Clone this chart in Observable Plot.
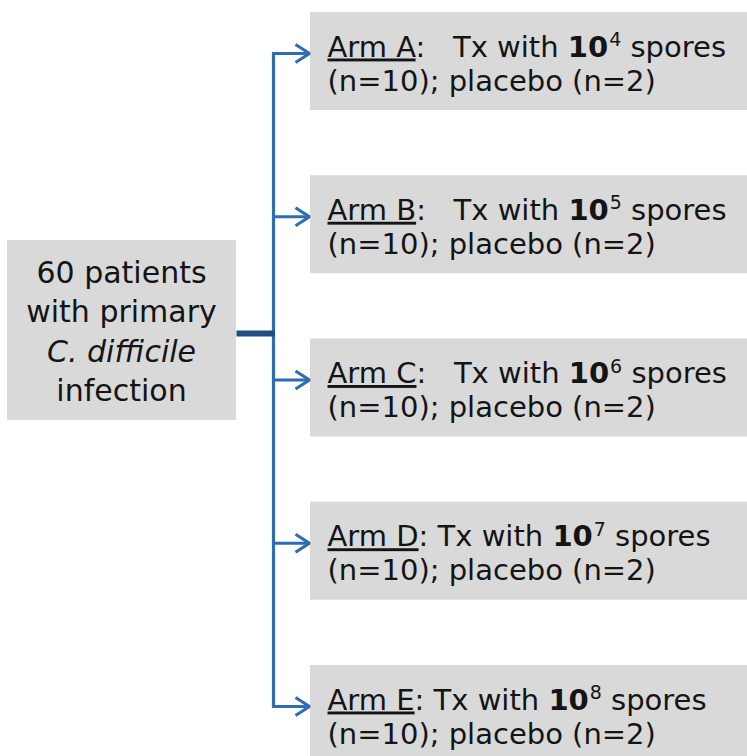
<!DOCTYPE html>
<html><head><meta charset="utf-8">
<script src="https://cdn.jsdelivr.net/npm/d3@7"></script>
<script src="https://cdn.jsdelivr.net/npm/@observablehq/plot@0.6"></script>
<style>html,body{margin:0;padding:0;background:#fff} svg{display:block}</style>
</head><body><div id="chart"></div>
<script>
// ---- data ----
const arms = ["A", "B", "C", "D", "E"];
const exponents = [4, 5, 6, 7, 8];
const treatedN = [10, 10, 10, 10, 10];
const placeboN = [2, 2, 2, 2, 2];
const armSeparators = [":   ", ":   ", ":   ", ": ", ": "];
const sourceLines = ["60 patients", "with primary", "C. difficile", "infection"];
const sourceItalic = [false, false, true, false];

// ---- style / layout ----
const W = 747, H = 756;
const FONT = "'DejaVu Sans', sans-serif";
const FS = 29, FS_SRC = 30;
const TEXT = "#141414", BOX = "#d9d9d9", BLUE = "#2f6db3", DARK = "#1f4e85";
const boxX1 = 310, boxTop0 = 12, step = 163.25, boxH = 98;
const spineX = 273, tipX = 309, arrowOff = 41, headBack = 14, headHalf = 9;
const src = {x1: 7, x2: 236, y1: 240, y2: 420, cx: 121, base0: 282, lh: 39.5, connY: 333};

const armData = arms.map((a, i) => ({
  arm: a, exp: exponents[i], n: treatedN[i], p: placeboN[i], sep: armSeparators[i],
  top: boxTop0 + i * step
}));
const srcData = sourceLines.map((t, i) => ({text: t, italic: sourceItalic[i], y: src.base0 + i * src.lh}));
const heads = armData.flatMap(d => {
  const y = d.top + arrowOff;
  return [
    {arm: d.arm, x: tipX - headBack, y: y - headHalf},
    {arm: d.arm, x: tipX, y: y},
    {arm: d.arm, x: tipX - headBack, y: y + headHalf}
  ];
});

const svg = Plot.plot({
  width: W, height: H, margin: 0,
  x: {domain: [0, W], range: [0, W], axis: null},
  y: {domain: [0, H], range: [0, H], axis: null},
  style: {background: "#fff", fontFamily: FONT},
  marks: [
    Plot.rect(armData, {x1: () => boxX1, x2: () => W, y1: d => d.top, y2: d => d.top + boxH, fill: BOX}),
    Plot.rect([src], {x1: "x1", x2: "x2", y1: "y1", y2: "y2", fill: BOX}),
    Plot.line(armData, {x: () => spineX, y: d => d.top + arrowOff, stroke: BLUE, strokeWidth: 3.2, strokeLinecap: "square"}),
    Plot.link(armData, {x1: () => spineX - 1.5, x2: () => tipX - 1.5, y1: d => d.top + arrowOff, y2: d => d.top + arrowOff,
      stroke: BLUE, strokeWidth: 3.2}),
    Plot.line(heads, {x: "x", y: "y", z: "arm", stroke: BLUE, strokeWidth: 3.2, strokeLinejoin: "miter", strokeLinecap: "butt", curve: "linear"}),
    Plot.link([src], {x1: "x2", x2: () => spineX + 1.5, y1: "connY", y2: "connY", stroke: DARK, strokeWidth: 6}),
    Plot.text(srcData.filter(d => !d.italic), {x: () => src.cx, y: "y", text: "text", lineAnchor: "bottom",
      fontSize: FS_SRC, fill: TEXT, fontFamily: FONT}),
    Plot.text(srcData.filter(d => d.italic), {x: () => src.cx, y: "y", text: "text", lineAnchor: "bottom",
      fontSize: FS_SRC, fill: TEXT, fontFamily: FONT, fontStyle: "italic"}),
    Plot.text(armData, {x: () => 327, y: d => d.top + 44, text: d => `Arm ${d.arm}${d.sep}Tx with 10^${d.exp} spores`,
      textAnchor: "start", lineAnchor: "bottom", fontSize: FS, fill: TEXT, fontFamily: FONT}),
    Plot.text(armData, {x: () => 327, y: d => d.top + 78, text: d => `(n=${d.n}); placebo (n=${d.p})`,
      textAnchor: "start", lineAnchor: "bottom", fontSize: FS, fill: TEXT, fontFamily: FONT})
  ]
});

// rich formatting of the arm titles: underline, bold base, superscript exponent
d3.select(svg).selectAll("text").each(function() {
  const m = /^Arm ([A-Z])/.exec(this.textContent);
  if (!m) return;
  const d = armData.find(a => a.arm === m[1]);
  const t = d3.select(this).text(null).style("white-space", "pre");
  t.append("tspan").attr("text-decoration", "underline").text(`Arm ${d.arm}`);
  t.append("tspan").text(`${d.sep}Tx with `);
  t.append("tspan").attr("font-weight", "bold").text("10");
  t.append("tspan").attr("font-size", Math.round(FS * 0.66)).attr("dx", 1).attr("dy", -FS * 0.36).text(d.exp);
  t.append("tspan").attr("dy", FS * 0.36).text(" spores");
});

document.getElementById("chart").appendChild(svg);
</script>
</body></html>
